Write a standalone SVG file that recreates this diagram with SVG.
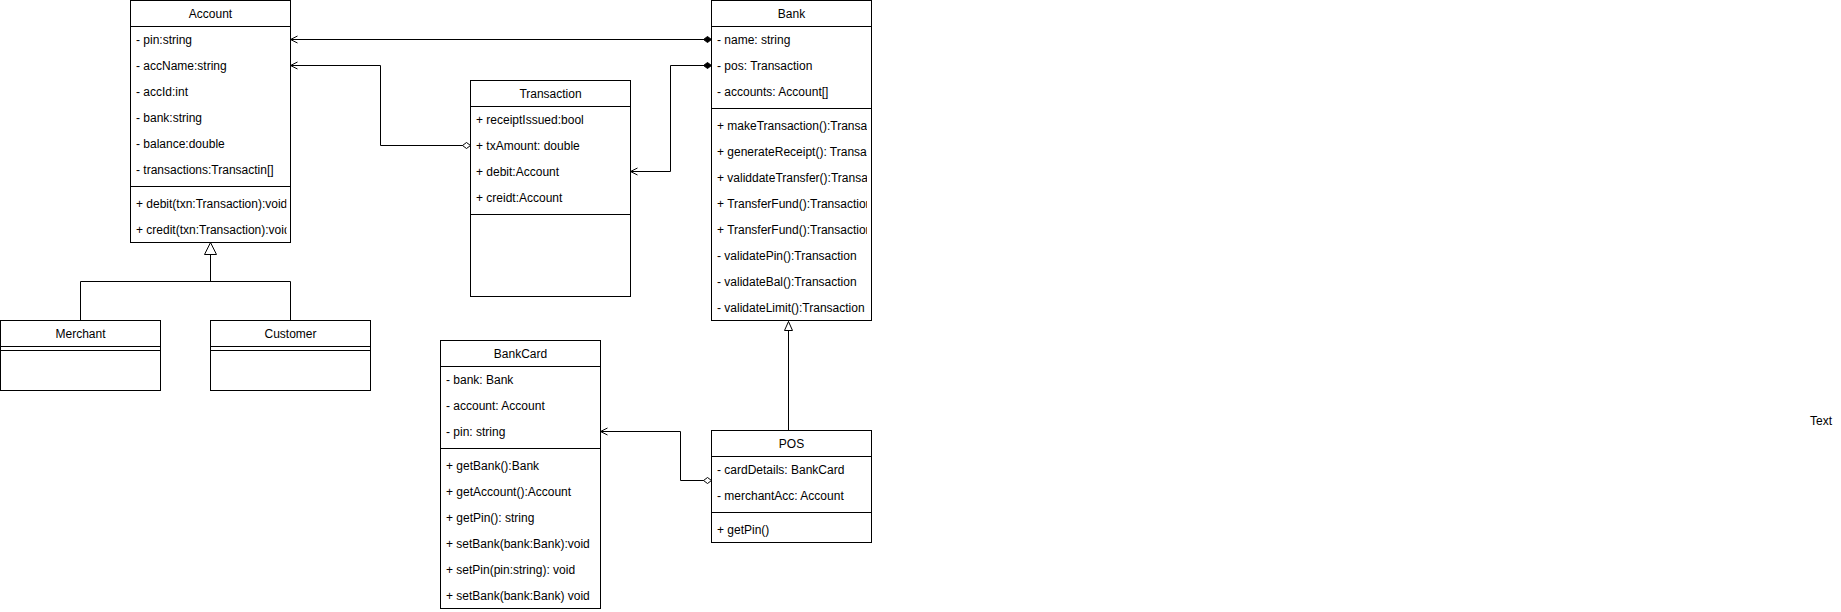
<svg xmlns="http://www.w3.org/2000/svg" width="1841" height="612" viewBox="0 0 1841 612">
<style>
  .box { fill: #ffffff; stroke: #000000; stroke-width: 1; }
  .ln { fill: none; stroke: #000000; stroke-width: 1; }
  .t { font-family: "Liberation Sans", Arial, sans-serif; font-size: 12px; fill: #000000; }
  .h { text-anchor: middle; }
</style>
<defs>
  <marker id="open" markerUnits="userSpaceOnUse" markerWidth="20" markerHeight="20" refX="0" refY="0" orient="auto" overflow="visible">
    <path d="M-7,-3.5 L0,0 L-7,3.5" fill="none" stroke="#000" stroke-width="1"/>
  </marker>
  <marker id="dfill" markerUnits="userSpaceOnUse" markerWidth="20" markerHeight="20" refX="0" refY="0" orient="auto" overflow="visible">
    <polygon points="0,0 4,-3 8,0 4,3" fill="#000" stroke="#000" stroke-width="1"/>
  </marker>
  <marker id="dopen" markerUnits="userSpaceOnUse" markerWidth="20" markerHeight="20" refX="0" refY="0" orient="auto" overflow="visible">
    <polygon points="0,0 4,-3 8,0 4,3" fill="#fff" stroke="#000" stroke-width="1"/>
  </marker>
  <marker id="tri" markerUnits="userSpaceOnUse" markerWidth="30" markerHeight="30" refX="0" refY="0" orient="auto" overflow="visible">
    <polygon points="0,0 -12,-6 -12,6" fill="#fff" stroke="#000" stroke-width="1"/>
  </marker>
  <marker id="tri2" markerUnits="userSpaceOnUse" markerWidth="30" markerHeight="30" refX="0" refY="0" orient="auto" overflow="visible">
    <polygon points="0,0 -9,-4 -9,4" fill="#fff" stroke="#000" stroke-width="1"/>
  </marker>
  <clipPath id="clipAcc"><rect x="130" y="0" width="156.5" height="243"/></clipPath>
  <clipPath id="clipBank"><rect x="711" y="0" width="156" height="321"/></clipPath>
</defs>

<g id="connectors">
  <path class="ln" d="M711.5,39.5 L290.5,39.5" marker-start="url(#dfill)" marker-end="url(#open)"/>
  <path class="ln" d="M711.5,65.5 H670.5 V171.5 H630.5" marker-start="url(#dfill)" marker-end="url(#open)"/>
  <path class="ln" d="M470.5,145.5 H380.5 V65.5 H290.5" marker-start="url(#dopen)" marker-end="url(#open)"/>
  <path class="ln" d="M711.5,480.5 H680.5 V431.5 H600.5" marker-start="url(#dopen)" marker-end="url(#open)"/>
  <path class="ln" d="M80.5,320.5 V281.5 H290.5 V320.5"/>
  <path class="ln" d="M210.5,281.5 V242.5" marker-end="url(#tri)"/>
  <path class="ln" d="M788.5,430.5 V321.5" marker-end="url(#tri2)"/>
</g>

<g id="Account">
  <rect class="box" x="130.5" y="0.5" width="160" height="242"/>
  <line class="ln" x1="130.5" y1="26.5" x2="290.5" y2="26.5"/>
  <line class="ln" x1="130.5" y1="186.5" x2="290.5" y2="186.5"/>
  <text class="t h" x="210.5" y="17.8">Account</text>
  <text class="t" x="136" y="43.8">- pin:string</text>
  <text class="t" x="136" y="69.8">- accName:string</text>
  <text class="t" x="136" y="95.8">- accId:int</text>
  <text class="t" x="136" y="121.8">- bank:string</text>
  <text class="t" x="136" y="147.8">- balance:double</text>
  <text class="t" x="136" y="173.8">- transactions:Transactin[]</text>
  <g clip-path="url(#clipAcc)">
    <text class="t" x="136" y="207.8">+ debit(txn:Transaction):void</text>
    <text class="t" x="136" y="233.8">+ credit(txn:Transaction):void</text>
  </g>
</g>

<g id="Merchant">
  <rect class="box" x="0.5" y="320.5" width="160" height="70"/>
  <line class="ln" x1="0.5" y1="346.5" x2="160.5" y2="346.5"/>
  <line class="ln" x1="0.5" y1="350.5" x2="160.5" y2="350.5"/>
  <text class="t h" x="80.5" y="337.8">Merchant</text>
</g>

<g id="Customer">
  <rect class="box" x="210.5" y="320.5" width="160" height="70"/>
  <line class="ln" x1="210.5" y1="346.5" x2="370.5" y2="346.5"/>
  <line class="ln" x1="210.5" y1="350.5" x2="370.5" y2="350.5"/>
  <text class="t h" x="290.5" y="337.8">Customer</text>
</g>

<g id="Transaction">
  <rect class="box" x="470.5" y="80.5" width="160" height="216"/>
  <line class="ln" x1="470.5" y1="106.5" x2="630.5" y2="106.5"/>
  <line class="ln" x1="470.5" y1="214.5" x2="630.5" y2="214.5"/>
  <text class="t h" x="550.5" y="97.8">Transaction</text>
  <text class="t" x="476" y="123.8">+ receiptIssued:bool</text>
  <text class="t" x="476" y="149.8">+ txAmount: double</text>
  <text class="t" x="476" y="175.8">+ debit:Account</text>
  <text class="t" x="476" y="201.8">+ creidt:Account</text>
</g>

<g id="Bank">
  <rect class="box" x="711.5" y="0.5" width="160" height="320"/>
  <line class="ln" x1="711.5" y1="26.5" x2="871.5" y2="26.5"/>
  <line class="ln" x1="711.5" y1="108.5" x2="871.5" y2="108.5"/>
  <text class="t h" x="791.5" y="17.8">Bank</text>
  <text class="t" x="717" y="43.8">- name: string</text>
  <text class="t" x="717" y="69.8">- pos: Transaction</text>
  <text class="t" x="717" y="95.8">- accounts: Account[]</text>
  <g clip-path="url(#clipBank)">
    <text class="t" x="717" y="129.8">+ makeTransaction():Transaction</text>
    <text class="t" x="717" y="155.8">+ generateReceipt(): Transaction</text>
    <text class="t" x="717" y="181.8">+ validdateTransfer():Transaction</text>
    <text class="t" x="717" y="207.8">+ TransferFund():Transaction</text>
    <text class="t" x="717" y="233.8">+ TransferFund():Transaction</text>
    <text class="t" x="717" y="259.8">- validatePin():Transaction</text>
    <text class="t" x="717" y="285.8">- validateBal():Transaction</text>
    <text class="t" x="717" y="311.8">- validateLimit():Transaction</text>
  </g>
</g>

<g id="BankCard">
  <rect class="box" x="440.5" y="340.5" width="160" height="268"/>
  <line class="ln" x1="440.5" y1="366.5" x2="600.5" y2="366.5"/>
  <line class="ln" x1="440.5" y1="448.5" x2="600.5" y2="448.5"/>
  <text class="t h" x="520.5" y="357.8">BankCard</text>
  <text class="t" x="446" y="383.8">- bank: Bank</text>
  <text class="t" x="446" y="409.8">- account: Account</text>
  <text class="t" x="446" y="435.8">- pin: string</text>
  <text class="t" x="446" y="469.8">+ getBank():Bank</text>
  <text class="t" x="446" y="495.8">+ getAccount():Account</text>
  <text class="t" x="446" y="521.8">+ getPin(): string</text>
  <text class="t" x="446" y="547.8">+ setBank(bank:Bank):void</text>
  <text class="t" x="446" y="573.8">+ setPin(pin:string): void</text>
  <text class="t" x="446" y="599.8">+ setBank(bank:Bank) void</text>
</g>

<g id="POS">
  <rect class="box" x="711.5" y="430.5" width="160" height="112"/>
  <line class="ln" x1="711.5" y1="456.5" x2="871.5" y2="456.5"/>
  <line class="ln" x1="711.5" y1="512.5" x2="871.5" y2="512.5"/>
  <text class="t h" x="791.5" y="447.8">POS</text>
  <text class="t" x="717" y="473.8">- cardDetails: BankCard</text>
  <text class="t" x="717" y="499.8">- merchantAcc: Account</text>
  <text class="t" x="717" y="533.8">+ getPin()</text>
</g>

<g id="TextLabel">
  <text class="t h" x="1821" y="424.5">Text</text>
</g>
</svg>
